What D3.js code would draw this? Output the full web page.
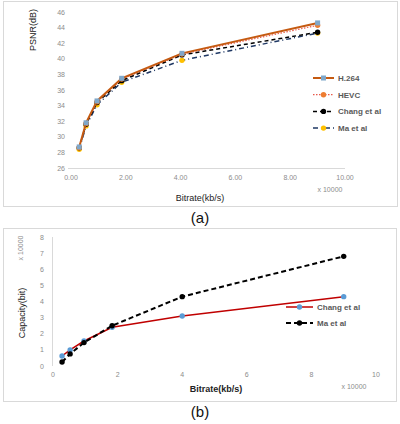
<!DOCTYPE html>
<html><head><meta charset="utf-8">
<script src="https://cdn.jsdelivr.net/npm/d3@7"></script>
<style>body{margin:0;background:#fff}svg{display:block;font-family:"Liberation Sans",Arial,sans-serif}</style>
</head><body><svg id="c" width="400" height="424"></svg>
<script>
// Chart (a): PSNR vs bitrate (x 10000 kb/s)
const bitratesA = [0.3, 0.55, 0.95, 1.85, 4.05, 9.0];
const h264 = [28.7, 31.8, 34.6, 37.5, 40.7, 44.6];
const hevc = [28.6, 31.7, 34.5, 37.4, 40.6, 44.3];
const changA = [28.6, 31.6, 34.4, 37.2, 40.5, 43.4];
const maA = [28.4, 31.4, 34.1, 37.0, 39.8, 43.3];
const yTicksA = [26, 28, 30, 32, 34, 36, 38, 40, 42, 44, 46];
const xTicksA = [0, 2, 4, 6, 8, 10];
const legendA = ["H.264", "HEVC", "Chang et al", "Ma et al"];
// Chart (b): capacity vs bitrate
const bitratesB = [0.28, 0.53, 0.96, 1.83, 4.0, 9.0];
const changB = [0.62, 1.0, 1.55, 2.4, 3.1, 4.3];
const maB = [0.25, 0.75, 1.45, 2.5, 4.3, 6.8];
const yTicksB = [0, 1, 2, 3, 4, 5, 6, 7, 8];
const xTicksB = [0, 2, 4, 6, 8, 10];
const legendB = ["Chang et al", "Ma et al"];

const svg = d3.select("#c");
const grey = "#595959", lgrey = "#8c8c8c";

// ---------- chart (a)
svg.append("rect").attr("x",3.5).attr("y",1.5).attr("width",394).attr("height",205).attr("fill","none").attr("stroke","#d9d9d9");
const xA = d3.scaleLinear().domain([0,10]).range([71,345]);
const yA = d3.scaleLinear().domain([26,46]).range([168,12]);
const gA = svg.append("g");
gA.append("line").attr("x1",xA(0)-3).attr("x2",xA(10)).attr("y1",yA(26)+0.5).attr("y2",yA(26)+0.5).attr("stroke","#d9d9d9");
gA.selectAll(".yt").data(yTicksA).join("text").attr("x",65).attr("y",d=>yA(d)+2.5).attr("text-anchor","end").attr("font-size",7).attr("fill",lgrey).text(d=>d);
gA.selectAll(".xt").data(xTicksA).join("text").attr("x",d=>xA(d)).attr("y",180).attr("text-anchor","middle").attr("font-size",7).attr("fill",lgrey).text(d=>d3.format(".2f")(d));
gA.append("text").attr("x",200).attr("y",201).attr("text-anchor","middle").attr("font-size",9).attr("fill","#222").text("Bitrate(kb/s)");
gA.append("text").attr("x",330).attr("y",192).attr("text-anchor","middle").attr("font-size",7).attr("fill",lgrey).text("x 10000");
gA.append("text").attr("transform","translate(36,30) rotate(-90)").attr("text-anchor","middle").attr("font-size",9).attr("fill","#222").text("PSNR(dB)");

const seriesA = [
  {name:legendA[0], v:h264, line:"#c55a11", w:2, dash:null, mk:"#7fa7c9", shape:"square"},
  {name:legendA[1], v:hevc, line:"#e8594a", w:1.2, dash:"1.5,1.5", mk:"#ed7d31", shape:"circle"},
  {name:legendA[2], v:changA, line:"#000", w:1.5, dash:"4,3", mk:"#000", shape:"circle"},
  {name:legendA[3], v:maA, line:"#1f3864", w:1.5, dash:"5,3,1,3", mk:"#ffc000", shape:"circle"}
];
const lineA = d3.line().x((d,i)=>xA(bitratesA[i])).y(d=>yA(d));
function marker(g, x, y, s, color){
  if(s.shape==="square") g.append("rect").attr("x",x-2.5).attr("y",y-2.5).attr("width",5).attr("height",5).attr("fill",color);
  else g.append("circle").attr("cx",x).attr("cy",y).attr("r",2.7).attr("fill",color);
}
[3,2,1,0].forEach(k=>{
  const s = seriesA[k];
  gA.append("path").attr("d",lineA(s.v)).attr("fill","none").attr("stroke",s.line).attr("stroke-width",s.w).attr("stroke-dasharray",s.dash);
  s.v.forEach((d,i)=>marker(gA, xA(bitratesA[i]), yA(d), s, s.mk));
});
seriesA.forEach((s,i)=>{
  const y = 78 + i*16.7;
  gA.append("line").attr("x1",313).attr("x2",334).attr("y1",y).attr("y2",y).attr("stroke",s.line).attr("stroke-width",s.w).attr("stroke-dasharray",s.dash);
  marker(gA, 323.5, y, s, s.mk);
  gA.append("text").attr("x",338).attr("y",y+3).attr("font-size",8).attr("font-weight","bold").attr("fill",grey).text(s.name);
});
svg.append("text").attr("x",200).attr("y",223).attr("text-anchor","middle").attr("font-size",15).attr("fill","#111").text("(a)");

// ---------- chart (b)
svg.append("rect").attr("x",3.5).attr("y",228.5).attr("width",393).attr("height",173).attr("fill","none").attr("stroke","#d9d9d9");
const xB = d3.scaleLinear().domain([0,10]).range([53,376]);
const yB = d3.scaleLinear().domain([0,8]).range([366,237]);
const gB = svg.append("g");
gB.append("line").attr("x1",52.5).attr("x2",52.5).attr("y1",yB(8)).attr("y2",yB(0)).attr("stroke","#d9d9d9");
gB.selectAll(".yt").data(yTicksB).join("text").attr("x",42).attr("y",d=>yB(d)+2.5).attr("text-anchor","middle").attr("font-size",7).attr("fill",lgrey).text(d=>d);
gB.selectAll(".xt").data(xTicksB).join("text").attr("x",d=>xB(d)).attr("y",377).attr("text-anchor","middle").attr("font-size",7).attr("fill",lgrey).text(d=>d);
gB.append("text").attr("x",216).attr("y",392).attr("text-anchor","middle").attr("font-size",9).attr("font-weight","bold").attr("fill","#222").text("Bitrate(kb/s)");
gB.append("text").attr("x",354).attr("y",389).attr("text-anchor","middle").attr("font-size",7).attr("fill",lgrey).text("x 10000");
gB.append("text").attr("transform","translate(23,248) rotate(-90)").attr("text-anchor","middle").attr("font-size",7).attr("fill",lgrey).text("x 10000");
gB.append("text").attr("transform","translate(25,313) rotate(-90)").attr("text-anchor","middle").attr("font-size",9).attr("fill","#222").text("Capacity(bit)");

const seriesB = [
  {name:legendB[0], v:changB, line:"#c00000", w:1.5, dash:null, mk:"#5b9bd5", shape:"circle"},
  {name:legendB[1], v:maB, line:"#000", w:2, dash:"5,3", mk:"#000", shape:"circle"}
];
const lineB = d3.line().x((d,i)=>xB(bitratesB[i])).y(d=>yB(d));
seriesB.forEach(s=>{
  gB.append("path").attr("d",lineB(s.v)).attr("fill","none").attr("stroke",s.line).attr("stroke-width",s.w).attr("stroke-dasharray",s.dash);
  s.v.forEach((d,i)=>marker(gB, xB(bitratesB[i]), yB(d), s, s.mk));
});
seriesB.forEach((s,i)=>{
  const y = 307 + i*16;
  gB.append("line").attr("x1",286).attr("x2",313).attr("y1",y).attr("y2",y).attr("stroke",s.line).attr("stroke-width",s.w).attr("stroke-dasharray",s.dash);
  marker(gB, 299.5, y, s, s.mk);
  gB.append("text").attr("x",317).attr("y",y+3).attr("font-size",8).attr("font-weight","bold").attr("fill",grey).text(s.name);
});
svg.append("text").attr("x",200).attr("y",417).attr("text-anchor","middle").attr("font-size",15).attr("fill","#111").text("(b)");
</script></body></html>
